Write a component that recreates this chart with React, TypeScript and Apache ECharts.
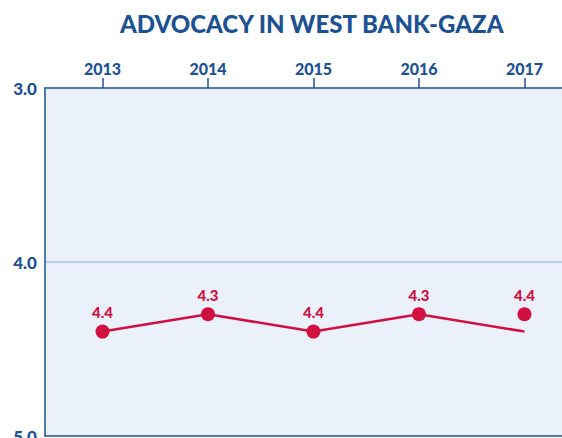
import React, { useEffect, useRef } from "react";
import * as echarts from "echarts";

const titleText = "ADVOCACY IN WEST BANK-GAZA";
const years = [2013, 2014, 2015, 2016, 2017];
const lineValues = [4.4, 4.3, 4.4, 4.3, 4.4];
const markerValues = [4.4, 4.3, 4.4, 4.3, 4.3];
const labelValues = ["4.4", "4.3", "4.4", "4.3", "4.4"];
const yMin = 3;
const yMax = 5;

const NAVY = "#1c5193";
const CRIMSON = "#d2103f";
const FONT = "Lato";

export default function App() {
  const ref = useRef<HTMLDivElement>(null);
  useEffect(() => {
    if (!ref.current) return;
    const chart = echarts.init(ref.current, null, { renderer: "svg" });
    chart.setOption({
      animation: false,
      backgroundColor: "#ffffff",
      title: {
        text: titleText,
        left: 115,
        top: 6,
        textStyle: { color: NAVY, fontFamily: FONT, fontWeight: 900, fontSize: 24 },
      },
      grid: {
        left: 45,
        right: -2,
        top: 88,
        bottom: 2,
        show: true,
        backgroundColor: "#eaf1fa",
        borderWidth: 0,
        outerBoundsMode: "none",
        containLabel: false,
      },
      xAxis: [
        {
          type: "value",
          position: "top",
          min: 2012.455,
          max: 2017.375,
          axisLine: { show: true, onZero: false, lineStyle: { color: NAVY, width: 1.5 } },
          axisTick: { show: true, inside: false, length: 10, customValues: years, lineStyle: { color: NAVY, width: 1.5 } },
          axisLabel: {
            customValues: years,
            margin: 12,
            color: NAVY,
            fontFamily: FONT,
            fontWeight: 900,
            fontSize: 16,
            formatter: (v: number) => String(Math.round(v)),
          },
          splitLine: { show: false },
        },
        {
          type: "value",
          position: "bottom",
          min: 2012.455,
          max: 2017.375,
          axisLine: { show: true, onZero: false, lineStyle: { color: NAVY, width: 1.5 } },
          axisTick: { show: false },
          axisLabel: { show: false },
          splitLine: { show: false },
        },
      ],
      yAxis: {
        type: "value",
        inverse: true,
        min: yMin,
        max: yMax,
        interval: 1,
        axisLine: { show: true, onZero: false, lineStyle: { color: NAVY, width: 1.5 } },
        axisTick: { show: false },
        axisLabel: {
          margin: 8,
          color: NAVY,
          fontFamily: FONT,
          fontWeight: 900,
          fontSize: 17,
          formatter: (v: number) => v.toFixed(1),
        },
        splitLine: {
          show: true,
          showMinLine: false,
          showMaxLine: false,
          lineStyle: { color: "#a9c6e6", width: 1.5 },
        },
      },
      series: [
        {
          type: "line",
          data: years.map((y, i) => [y, lineValues[i]]),
          symbol: "none",
          lineStyle: { color: CRIMSON, width: 2.5 },
          z: 2,
        },
        {
          type: "scatter",
          data: years.map((y, i) => [y, markerValues[i]]),
          symbolSize: 14,
          itemStyle: { color: CRIMSON, opacity: 1 },
          label: {
            show: true,
            position: "top",
            distance: 5,
            color: CRIMSON,
            opacity: 1,
            fontFamily: FONT,
            fontWeight: 900,
            fontSize: 15,
            formatter: (p: any) => labelValues[p.dataIndex],
          },
          z: 3,
        },
      ],
    });
    return () => chart.dispose();
  }, []);
  return (
    <div
      ref={ref}
      style={{ position: "absolute", left: 0, top: 0, width: 562, height: 438 }}
    />
  );
}
